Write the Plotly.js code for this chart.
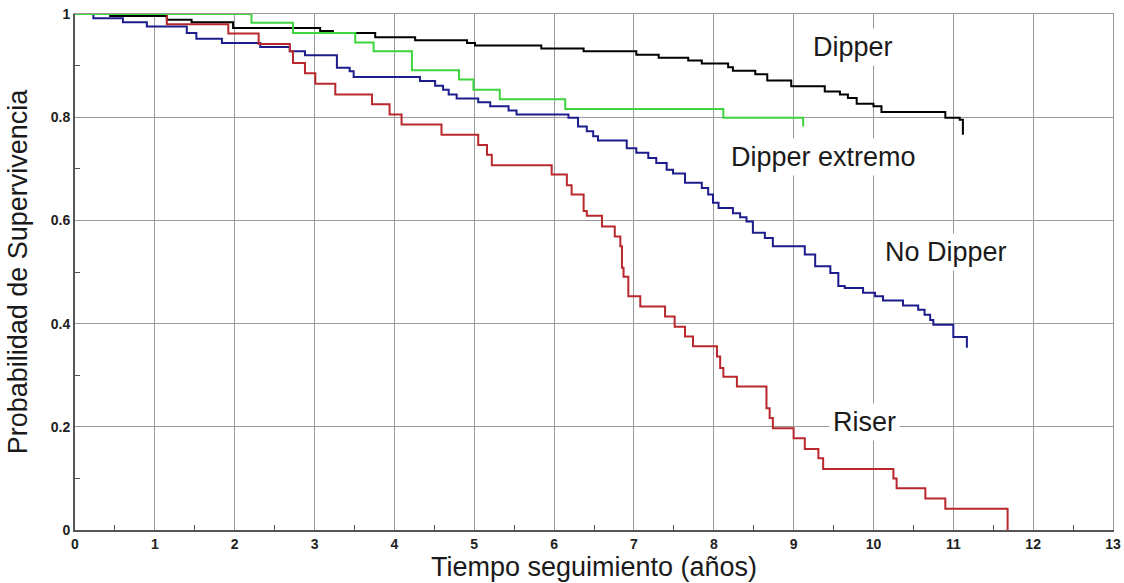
<!DOCTYPE html>
<html>
<head>
<meta charset="utf-8">
<script src="https://cdn.plot.ly/plotly-3.0.1.min.js"></script>
<style>html,body{margin:0;padding:0;background:#fff;}#chart{width:1124px;height:583px;}</style>
</head>
<body>
<div id="chart"></div>
<script>
// Kaplan-Meier survival curves (step functions): time in years, survival probability
const dipperT = [0, 0.44, 1.15, 1.46, 1.98, 3.07, 3.23, 3.76, 4.26, 4.91, 5.01, 5.84, 6.37, 7.03, 7.31, 7.68, 7.85, 8.18, 8.24, 8.52, 8.67, 8.97, 9.39, 9.58, 9.68, 9.79, 10.0, 10.10, 10.90, 11.08, 11.12, 11.12];
const dipperS = [1, 0.996, 0.989, 0.984, 0.973, 0.967, 0.963, 0.955, 0.949, 0.944, 0.939, 0.933, 0.928, 0.921, 0.915, 0.910, 0.904, 0.897, 0.890, 0.883, 0.871, 0.860, 0.850, 0.844, 0.837, 0.826, 0.821, 0.810, 0.799, 0.795, 0.795, 0.766];

const extremoT = [0, 2.21, 2.73, 3.51, 3.74, 4.22, 4.81, 4.99, 5.32, 6.14, 8.12, 9.12, 9.12];
const extremoS = [1, 0.983, 0.963, 0.945, 0.928, 0.891, 0.873, 0.853, 0.835, 0.816, 0.799, 0.799, 0.782];

const noDipperT = [0, 0.23, 0.60, 0.90, 1.40, 1.52, 1.84, 2.32, 2.69, 2.88, 3.28, 3.44, 3.49, 4.32, 4.51, 4.61, 4.68, 4.78, 5.05, 5.20, 5.43, 5.53, 6.18, 6.30, 6.41, 6.49, 6.55, 6.91, 7.03, 7.18, 7.28, 7.41, 7.49, 7.64, 7.85, 7.93, 7.99, 8.06, 8.24, 8.33, 8.41, 8.49, 8.64, 8.74, 9.14, 9.27, 9.46, 9.56, 9.64, 9.87, 10.02, 10.12, 10.37, 10.56, 10.64, 10.71, 10.75, 11.0, 11.17, 11.17];
const noDipperS = [1, 0.992, 0.984, 0.976, 0.963, 0.952, 0.944, 0.936, 0.928, 0.920, 0.896, 0.889, 0.878, 0.870, 0.861, 0.853, 0.844, 0.836, 0.829, 0.821, 0.813, 0.805, 0.799, 0.782, 0.773, 0.763, 0.755, 0.740, 0.731, 0.721, 0.711, 0.698, 0.691, 0.673, 0.663, 0.650, 0.634, 0.624, 0.614, 0.606, 0.598, 0.576, 0.566, 0.550, 0.534, 0.511, 0.498, 0.473, 0.469, 0.460, 0.453, 0.445, 0.435, 0.427, 0.417, 0.407, 0.398, 0.374, 0.374, 0.353];

const riserT = [0, 1.15, 1.92, 2.30, 2.69, 2.73, 2.88, 3.01, 3.26, 3.72, 3.94, 4.09, 4.59, 5.05, 5.16, 5.22, 5.97, 6.16, 6.22, 6.37, 6.41, 6.60, 6.76, 6.83, 6.85, 6.87, 6.93, 7.08, 7.39, 7.51, 7.64, 7.74, 8.04, 8.08, 8.12, 8.29, 8.66, 8.70, 8.74, 9.00, 9.14, 9.31, 9.37, 10.25, 10.29, 10.65, 10.90, 11.68, 11.68];
const riserS = [1, 0.980, 0.962, 0.942, 0.928, 0.905, 0.885, 0.865, 0.844, 0.825, 0.805, 0.786, 0.766, 0.746, 0.727, 0.707, 0.689, 0.668, 0.650, 0.618, 0.609, 0.588, 0.569, 0.550, 0.508, 0.491, 0.453, 0.433, 0.414, 0.394, 0.375, 0.356, 0.336, 0.314, 0.297, 0.278, 0.236, 0.217, 0.197, 0.178, 0.157, 0.139, 0.118, 0.100, 0.081, 0.061, 0.041, 0.041, 0];

const curveNames = ["Dipper", "No Dipper", "Riser", "Dipper extremo"];
const labelText = ["Dipper", "Dipper extremo", "No Dipper", "Riser"];
const labelX = [9.74, 9.37, 10.91, 9.89];
const labelY = [0.937, 0.722, 0.539, 0.2095];

const xTitle = "Tiempo seguimiento (años)";
const yTitle = "Probabilidad de Supervivencia";

const series = [
  {t: dipperT, s: dipperS, color: "#000000"},
  {t: noDipperT, s: noDipperS, color: "#1c1c8c"},
  {t: riserT, s: riserS, color: "#b8282c"},
  {t: extremoT, s: extremoS, color: "#3ed43e"}
];

const traces = series.map((d, i) => ({
  type: "scatter", mode: "lines", name: curveNames[i],
  x: d.t, y: d.s,
  line: {shape: "hv", color: d.color, width: 2},
  hoverinfo: "x+y+name"
}));
// empty helper trace so the top/right frame axes are drawn
traces.unshift({type: "scatter", mode: "lines", x: [], y: [], xaxis: "x2", yaxis: "y2", hoverinfo: "skip", showlegend: false});

const annotations = labelText.map((txt, i) => ({
  x: labelX[i], y: labelY[i], xref: "x", yref: "y",
  text: txt, showarrow: false,
  font: {family: "Liberation Sans, Arial, sans-serif", size: 27, color: "#1a1a1a"},
  bgcolor: "#ffffff", borderpad: 3,
  xanchor: "center", yanchor: "middle"
}));

const tickFont = {family: "Liberation Sans Narrow, Arial Narrow, sans-serif", size: 14, color: "#222", weight: "bold"};
const gridColor = "#9a9a9a";

const layout = {
  width: 1124, height: 583,
  margin: {l: 75, r: 11, t: 14, b: 53},
  paper_bgcolor: "#ffffff", plot_bgcolor: "#ffffff",
  showlegend: false,
  font: {family: "Liberation Sans, Arial, sans-serif"},
  xaxis: {
    range: [0, 13], dtick: 1, tick0: 0,
    showgrid: true, gridcolor: gridColor, gridwidth: 1,
    showline: true, linecolor: "#555", linewidth: 2,
    zeroline: false, ticks: "", tickfont: tickFont, ticklen: 0,
    minor: {dtick: 0.5, ticks: "inside", ticklen: 5, tickcolor: "#555", showgrid: false},
    title: {text: xTitle, font: {family: "Liberation Sans, Arial, sans-serif", size: 27, color: "#1a1a1a"}, standoff: 4},
    automargin: false
  },
  yaxis: {
    range: [0, 1], dtick: 0.2, tick0: 0,
    showgrid: true, gridcolor: gridColor, gridwidth: 1,
    showline: true, linecolor: "#555", linewidth: 2,
    zeroline: false, ticks: "", tickfont: tickFont, ticklen: 0,
    minor: {dtick: 0.1, ticks: "inside", ticklen: 5, tickcolor: "#555", showgrid: false},
    title: {text: yTitle, font: {family: "Liberation Sans, Arial, sans-serif", size: 27, color: "#1a1a1a"}, standoff: 15},
    automargin: false
  },
  xaxis2: {
    overlaying: "x", side: "top", anchor: "y2", range: [0, 13], showgrid: false, zeroline: false,
    showline: true, linecolor: gridColor, linewidth: 1, showticklabels: false, ticks: ""
  },
  yaxis2: {
    overlaying: "y", side: "right", anchor: "x2", range: [0, 1], showgrid: false, zeroline: false,
    showline: true, linecolor: gridColor, linewidth: 1, showticklabels: false, ticks: ""
  },
  annotations: annotations
};

Plotly.newPlot("chart", traces, layout, {displayModeBar: false});
</script>
</body>
</html>
